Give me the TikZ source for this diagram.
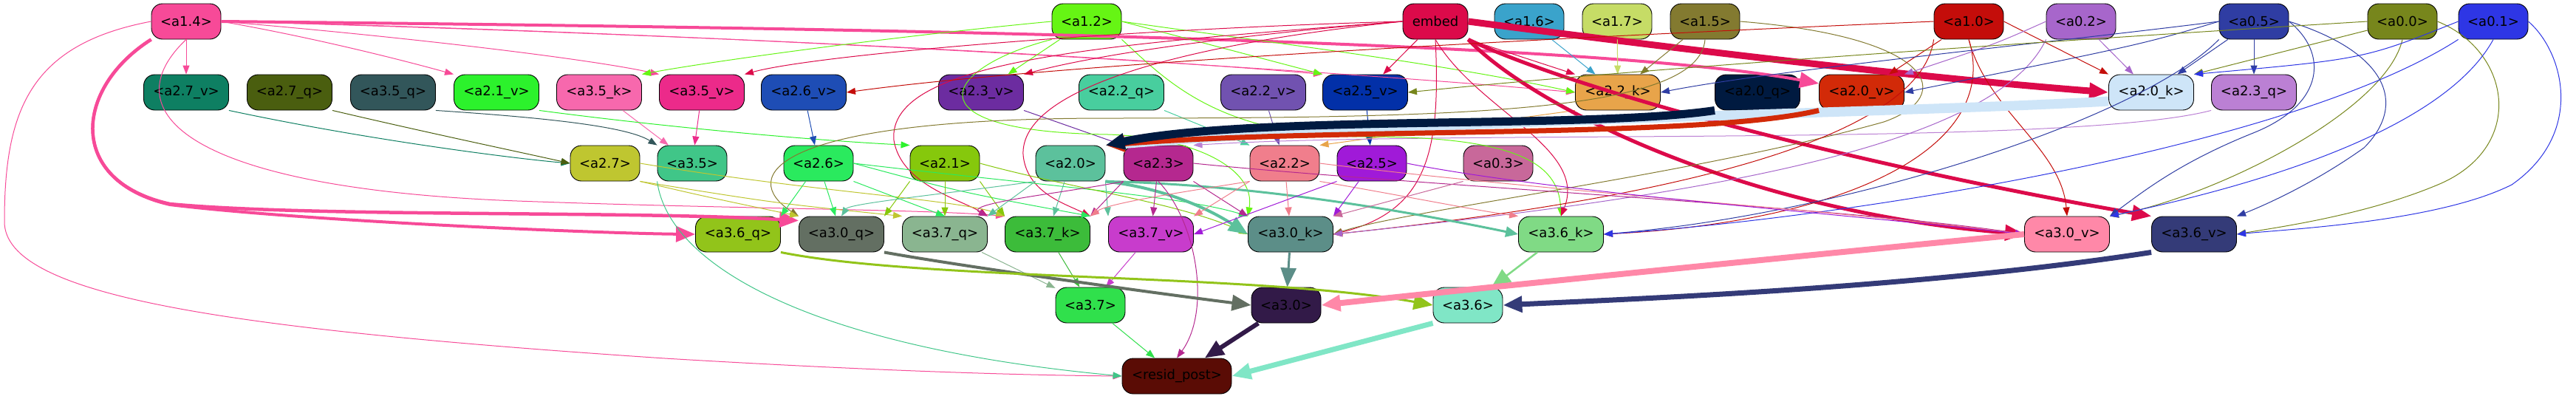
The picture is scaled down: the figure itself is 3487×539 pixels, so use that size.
\documentclass[tikz,border=0pt]{standalone}
\usepackage{fontspec}
\setmainfont{DejaVu Sans}
\usetikzlibrary{arrows.meta}
\definecolor{c14}{HTML}{F74A98}
\definecolor{c12}{HTML}{66F514}
\definecolor{cemb}{HTML}{DC0A4A}
\definecolor{c16}{HTML}{3AA3CB}
\definecolor{c17}{HTML}{C6DC66}
\definecolor{c15}{HTML}{837A30}
\definecolor{c10}{HTML}{C40D0A}
\definecolor{c02}{HTML}{A766CB}
\definecolor{c05}{HTML}{2F3DA3}
\definecolor{c00}{HTML}{77861C}
\definecolor{c01}{HTML}{2E36E5}
\definecolor{c27v}{HTML}{0E7F62}
\definecolor{c27q}{HTML}{4A5E0F}
\definecolor{c35q}{HTML}{32565A}
\definecolor{c21v}{HTML}{2CF22C}
\definecolor{c35k}{HTML}{F768AD}
\definecolor{c35v}{HTML}{EC2A8A}
\definecolor{c26v}{HTML}{1E4DB5}
\definecolor{c23v}{HTML}{6C2CA0}
\definecolor{c22q}{HTML}{48CE9E}
\definecolor{c22v}{HTML}{7152B0}
\definecolor{c25v}{HTML}{0230A8}
\definecolor{c22k}{HTML}{E8A44A}
\definecolor{c20q}{HTML}{001A40}
\definecolor{c20v}{HTML}{D22A08}
\definecolor{c20k}{HTML}{CEE5F8}
\definecolor{c23q}{HTML}{BB80D4}
\definecolor{c27}{HTML}{BFC630}
\definecolor{c35}{HTML}{40C688}
\definecolor{c26}{HTML}{2AEA5E}
\definecolor{c21}{HTML}{86C80C}
\definecolor{c20}{HTML}{5CC19C}
\definecolor{c23}{HTML}{B5288F}
\definecolor{c22}{HTML}{F07E8C}
\definecolor{c25}{HTML}{A01AD8}
\definecolor{c03}{HTML}{C8689A}
\definecolor{c36q}{HTML}{92C41A}
\definecolor{c30q}{HTML}{636F62}
\definecolor{c37q}{HTML}{8AB590}
\definecolor{c37k}{HTML}{3CBC3A}
\definecolor{c37v}{HTML}{C83CCC}
\definecolor{c30k}{HTML}{5C8E88}
\definecolor{c36k}{HTML}{80DA85}
\definecolor{c30v}{HTML}{FF88A8}
\definecolor{c36v}{HTML}{343B78}
\definecolor{c37}{HTML}{30E04C}
\definecolor{c30}{HTML}{321A48}
\definecolor{c36}{HTML}{80E6C6}
\definecolor{cres}{HTML}{5A0C05}
\begin{document}
\begin{tikzpicture}[x=1pt,y=-1pt,
 nd/.style={draw=black,line width=0.9pt,rounded corners=15pt,minimum height=48pt,inner sep=0pt,font=\fontsize{18}{18}\selectfont,text=black},
 ws/.style={minimum width=94pt},
 wl/.style={minimum width=115pt},
 e/.style={draw=#1,line width=1pt,-{Triangle[length=12pt,width=9pt]}},
 em/.style={draw=#1,line width=3pt,-{Triangle[length=17pt,width=14pt]}},
 ek/.style 2 args={draw=#1,line width=#2,-{Triangle[length=26pt,width=21pt]}},
]
\fill[white] (0,0) rectangle (3487,539);
\useasboundingbox (0,0) rectangle (3487,539);
% row 1
\node[nd,ws,fill=c14] (n14) at (252,29) {<a1.4>};
\node[nd,ws,fill=c12] (n12) at (1471,29) {<a1.2>};
\node[nd,minimum width=88pt,fill=cemb] (nemb) at (1943,29) {embed};
\node[nd,ws,fill=c16] (n16) at (2070,29) {<a1.6>};
\node[nd,ws,fill=c17] (n17) at (2189,29) {<a1.7>};
\node[nd,ws,fill=c15] (n15) at (2308,29) {<a1.5>};
\node[nd,ws,fill=c10] (n10) at (2665,29) {<a1.0>};
\node[nd,ws,fill=c02] (n02) at (2817,29) {<a0.2>};
\node[nd,ws,fill=c05] (n05) at (3051,29) {<a0.5>};
\node[nd,ws,fill=c00] (n00) at (3252,29) {<a0.0>};
\node[nd,ws,fill=c01] (n01) at (3375,29) {<a0.1>};
% row 2
\node[nd,wl,fill=c27v] (n27v) at (252,125) {<a2.7\_v>};
\node[nd,wl,fill=c27q] (n27q) at (392,125) {<a2.7\_q>};
\node[nd,wl,fill=c35q] (n35q) at (532,125) {<a3.5\_q>};
\node[nd,wl,fill=c21v] (n21v) at (672,125) {<a2.1\_v>};
\node[nd,wl,fill=c35k] (n35k) at (811,125) {<a3.5\_k>};
\node[nd,wl,fill=c35v] (n35v) at (950,125) {<a3.5\_v>};
\node[nd,wl,fill=c26v] (n26v) at (1088,125) {<a2.6\_v>};
\node[nd,wl,fill=c23v] (n23v) at (1328,125) {<a2.3\_v>};
\node[nd,wl,fill=c22q] (n22q) at (1518,125) {<a2.2\_q>};
\node[nd,wl,fill=c22v] (n22v) at (1710,125) {<a2.2\_v>};
\node[nd,wl,fill=c25v] (n25v) at (1848,125) {<a2.5\_v>};
\node[nd,wl,fill=c22k] (n22k) at (2190,125) {<a2.2\_k>};
\node[nd,wl,fill=c20q] (n20q) at (2379,125) {<a2.0\_q>};
\node[nd,wl,fill=c20v] (n20v) at (2520,125) {<a2.0\_v>};
\node[nd,wl,fill=c20k] (n20k) at (2912,125) {<a2.0\_k>};
\node[nd,wl,fill=c23q] (n23q) at (3051,125) {<a2.3\_q>};
% row 3
\node[nd,ws,fill=c27] (n27) at (819,221) {<a2.7>};
\node[nd,ws,fill=c35] (n35) at (937,221) {<a3.5>};
\node[nd,ws,fill=c26] (n26) at (1108,221) {<a2.6>};
\node[nd,ws,fill=c21] (n21) at (1279,221) {<a2.1>};
\node[nd,ws,fill=c20] (n20) at (1449,221) {<a2.0>};
\node[nd,ws,fill=c23] (n23) at (1568,221) {<a2.3>};
\node[nd,ws,fill=c22] (n22) at (1739,221) {<a2.2>};
\node[nd,ws,fill=c25] (n25) at (1857,221) {<a2.5>};
\node[nd,ws,fill=c03] (n03) at (2028,221) {<a0.3>};
% row 4
\node[nd,wl,fill=c36q] (n36q) at (999,317) {<a3.6\_q>};
\node[nd,wl,fill=c30q] (n30q) at (1139,317) {<a3.0\_q>};
\node[nd,wl,fill=c37q] (n37q) at (1279,317) {<a3.7\_q>};
\node[nd,wl,fill=c37k] (n37k) at (1418,317) {<a3.7\_k>};
\node[nd,wl,fill=c37v] (n37v) at (1558,317) {<a3.7\_v>};
\node[nd,wl,fill=c30k] (n30k) at (1747,317) {<a3.0\_k>};
\node[nd,wl,fill=c36k] (n36k) at (2113,317) {<a3.6\_k>};
\node[nd,wl,fill=c30v] (n30v) at (2798,317) {<a3.0\_v>};
\node[nd,wl,fill=c36v] (n36v) at (2970,317) {<a3.6\_v>};
% row 5
\node[nd,ws,fill=c37] (n37) at (1476,413) {<a3.7>};
\node[nd,ws,fill=c30] (n30) at (1741,413) {<a3.0>};
\node[nd,ws,fill=c36] (n36) at (1987,413) {<a3.6>};
% row 6
\node[nd,minimum width=148pt,fill=cres] (nres) at (1593,509) {<resid\_post>};

% ---- edges from a1.4
\draw[e=c14] (n14) -- (n27v);
\draw[e=c14] (n14.east) .. controls (420,50) and (540,80) .. (n21v.north west);
\draw[e=c14] (n14.east) .. controls (550,50) and (800,80) .. (n35v.north west);
\draw[e=c14] (n14.east) .. controls (900,45) and (1500,75) .. (n25v.north west);
\draw[e=c14] (n14.east) .. controls (1000,45) and (1800,95) .. (n22k.west);
\draw[ek={c14}{4pt}] (n14.east) .. controls (1200,38) and (2150,55) .. ([yshift=12pt]n20v.west);
\draw[ek={c14}{4.5pt}] (n14.south west) .. controls (100,120) and (90,245) .. (230,276) .. controls (420,294) and (850,285) .. ([yshift=-6pt]n30q.north west);
\draw[ek={c14}{4pt}] (n14.south west) .. controls (100,120) and (90,245) .. (230,277) .. controls (420,300) and (820,316) .. (n36q.west);
\draw[e=c14] (n14.west) .. controls (40,60) and (6,150) .. (6,300) .. controls (6,400) and (300,445) .. (900,485) .. controls (1200,503) and (1400,508) .. (nres.west);
\draw[e=c14] (n14.south) .. controls (150,150) and (250,255) .. (700,272) .. controls (1000,283) and (1250,283) .. (n37k.north west);
% ---- row2 -> row3
\draw[e=c27v] (n27v.south east) .. controls (500,190) and (700,215) .. (n27.west);
\draw[e=c27q] (n27q.south east) .. controls (580,180) and (700,205) .. (n27.west);
\draw[e=c35q] (n35q.south east) .. controls (750,160) and (850,172) .. (n35.north west);
\draw[e=c35k] (n35k) -- (n35);
\draw[e=c21v] (n21v.south east) .. controls (900,172) and (1100,190) .. (n21.north west);
\draw[e=c35v] (n35v) -- (n35);
\draw[e=c26v] (n26v) -- (n26);
\draw[e=c23v] (n23v.south east) -- (n23.north west);
\draw[e=c22q] (n22q.south east) -- (n22.north west);
\draw[e=c22v] (n22v) -- (n22);
\draw[e=c25v] (n25v) -- (n25);
\draw[e=c22k] (n22k.south west) -- (n22.north east);
\draw[e=c23q] (n23q.south west) .. controls (2800,200) and (1950,175) .. (n23.north east);
% ---- a1.2
\draw[e=c12] (n12.west) .. controls (1200,50) and (950,85) .. (n35k.north east);
\draw[e=c12] (n12) -- (n23v);
\draw[e=c12] (n12.east) -- (n25v.north west);
\draw[e=c12] (n12.east) .. controls (1700,55) and (1950,85) .. (n22k.west);
\draw[e=c12] (n12.south west) .. controls (1280,90) and (1220,178) .. (1500,182) .. controls (1620,186) and (1700,230) .. (n30k.north west);
\draw[e=c12] (n12.south east) .. controls (1580,110) and (1650,185) .. (1850,185) .. controls (2050,185) and (2110,220) .. (n36k.north);
% ---- embed
\draw[e=cemb] (nemb) -- (n25v);
\draw[e=cemb] (nemb.south east) -- (n22k.north west);
\draw[e=cemb] (nemb.west) .. controls (1700,45) and (1500,70) .. (n23v.north east);
\draw[e=cemb] (nemb.west) .. controls (1500,40) and (1100,75) .. (n35v.north east);
\draw[ek={cemb}{9pt}] (nemb.east) .. controls (2300,70) and (2600,105) .. (n20k.west);
\draw[ek={cemb}{5pt}] (nemb.south east) .. controls (2070,140) and (2350,285) .. (n30v.west);
\draw[ek={cemb}{5pt}] (nemb.south east) .. controls (2150,130) and (2550,230) .. (n36v.north west);
\draw[e=cemb] (nemb.south) .. controls (1950,200) and (1935,285) .. (n30k.east);
\draw[e=cemb] (nemb.south) .. controls (2000,150) and (2150,200) .. (n36k.north);
\draw[e=cemb] (nemb.west) .. controls (1500,60) and (1200,80) .. (1210,190) .. controls (1220,250) and (1300,270) .. (n37q.north east);
\draw[e=cemb] (nemb.west) .. controls (1600,60) and (1380,120) .. (1385,210) .. controls (1390,260) and (1440,275) .. (n37k.north east);
% ---- a1.6 a1.7 a1.5
\draw[e=c16] (n16) -- (n22k);
\draw[e=c17] (n17) -- (n22k);
\draw[e=c15] (n15) -- (n22k);
\draw[e=c15] (n15.south) .. controls (2300,150) and (2000,160) .. (1500,160) .. controls (1040,160) and (1000,240) .. (n30q.north west);
\draw[e=c15] (n15.east) .. controls (2620,50) and (2650,130) .. (2550,165) .. controls (2300,235) and (1900,285) .. (n30k.east);
% ---- a1.0
\draw[e=c10] (n10) -- (n20v);
\draw[e=c10] (n10.east) -- (n20k.north west);
\draw[e=c10] (n10.west) .. controls (2000,55) and (1400,90) .. (n26v.east);
\draw[e=c10] (n10.south) .. controls (2690,150) and (2790,200) .. (n30v.north);
\draw[e=c10] (n10.south) .. controls (2710,200) and (2500,300) .. (n36k.east);
\draw[e=c10] (n10.south west) .. controls (2600,180) and (2300,265) .. (n30k.east);
% ---- a0.2
\draw[e=c02] (n02) -- (n20k);
\draw[e=c02] (n02.west) .. controls (2700,60) .. (n20v.north east);
\draw[e=c02] (n02.south west) .. controls (2700,200) and (2300,265) .. (n30k.east);
% ---- a0.5
\draw[e=c05] (n05) -- (n20k);
\draw[e=c05] (n05) -- (n23q);
\draw[e=c05] (n05.west) .. controls (2800,55) and (2400,95) .. (n22k.east);
\draw[e=c05] (n05.west) .. controls (2900,60) .. (n20v.east);
\draw[e=c05] (n05.east) .. controls (3150,70) and (3150,140) .. (3050,180) .. controls (2950,220) and (2900,260) .. (n30v.north east);
\draw[e=c05] (n05.east) .. controls (3230,70) and (3260,140) .. (3200,200) .. controls (3130,250) and (3060,280) .. (n36v.north east);
\draw[e=c05] (n05.south west) .. controls (2900,160) and (2500,290) .. (n36k.east);
% ---- a0.0
\draw[e=c00] (n00) -- (n20k.north east);
\draw[e=c00] (n00.west) .. controls (2700,60) and (2200,95) .. (n25v.east);
\draw[e=c00] (n00.south) .. controls (3230,150) and (3000,265) .. (n30v.north east);
\draw[e=c00] (n00.east) .. controls (3400,70) and (3420,200) .. (3300,250) .. controls (3200,292) and (3080,308) .. (n36v.east);
% ---- a0.1
\draw[e=c01] (n01.west) .. controls (3200,80) .. (n20k.north east);
\draw[e=c01] (n01.east) .. controls (3470,70) and (3500,180) .. (3400,250) .. controls (3300,300) and (3100,310) .. (n36v.east);
\draw[e=c01] (n01.south west) .. controls (3100,200) and (2500,295) .. (n36k.east);
\draw[e=c01] (n01.south) .. controls (3300,190) and (3000,262) .. (n30v.north east);
% ---- thick into a2.0
\draw[ek={c20k}{13pt}] ([yshift=-12pt]n20k.west) .. controls (2600,152) and (1900,163) .. (n20.north east);
\draw[ek={c20v}{7pt}] (n20v.south west) .. controls (2300,188) and (1800,172) .. (n20.north east);
\draw[ek={c20q}{11pt}] (n20q.south west) .. controls (2150,175) and (1700,155) .. (n20.north east);
% ---- row3 -> row4
\draw[e=c27] (n27.south east) .. controls (950,265) .. (n30q.north west);
\draw[e=c27] (n27.south east) .. controls (1050,275) .. (n37q.north west);
\draw[e=c27] (n27.east) .. controls (1100,260) and (1300,270) .. (n37k.north west);
\draw[e=c35] (n35.south west) .. controls (905,360) and (1100,470) .. (nres.west);
\draw[e=c26] (n26) -- (n36q.north east);
\draw[e=c26] (n26) -- (n30q);
\draw[e=c26] (n26.south east) -- (n37q.north);
\draw[e=c26] (n26.east) .. controls (1300,260) .. (n37k.north east);
\draw[e=c26] (n26.east) .. controls (1400,250) and (1600,265) .. (n30k.north west);
\draw[e=c21] (n21.south west) -- (n30q.north east);
\draw[e=c21] (n21) -- (n37q);
\draw[e=c21] (n21.south east) -- (n37k.north west);
\draw[e=c21] (n21.east) .. controls (1450,255) and (1600,275) .. (n30k.west);
\draw[e=c20] (n20.south west) .. controls (1300,260) and (1150,275) .. (n30q.north);
\draw[e=c20] (n20.south west) -- (n37q.north east);
\draw[e=c20] (n20) -- (n37k);
\draw[e=c20] (n20.south east) -- (n37v.north west);
\draw[ek={c20}{4pt}] (n20.south east) .. controls (1580,255) and (1640,285) .. (n30k.west);
\draw[em=c20] (n20.south east) .. controls (1700,250) and (1900,285) .. (n36k.west);
\draw[e=c23] (n23.south west) -- (n37k.north east);
\draw[e=c23] (n23) -- (n37v);
\draw[e=c23] (n23.south east) -- (n30k.north west);
\draw[e=c23] (n23.east) .. controls (1900,250) and (2500,280) .. (n30v.west);
\draw[e=c23] (n23.south) .. controls (1620,300) and (1640,420) .. (nres.north);
\draw[e=c23] (n23.south west) .. controls (1450,260) and (1300,275) .. (n37q.north east);
\draw[e=c22] (n22.south west) -- (n37v.north east);
\draw[e=c22] (n22.south west) .. controls (1600,260) and (1500,275) .. (n37k.north east);
\draw[e=c22] (n22) -- (n30k);
\draw[e=c22] (n22.south east) .. controls (1900,265) and (2000,285) .. (n36k.north west);
\draw[e=c22] (n22.east) .. controls (2100,260) and (2500,285) .. (n30v.west);
\draw[e=c25] (n25.south west) -- (n37v.east);
\draw[e=c25] (n25) -- (n30k.north east);
\draw[e=c25] (n25.east) .. controls (2100,260) and (2500,290) .. (n30v.west);
\draw[e=c03] (n03.south west) -- (n30k.north east);
% ---- row4 -> row5 -> row6
\draw[e=c37q] (n37q) -- (n37);
\draw[e=c37k] (n37k) -- (n37);
\draw[e=c37v] (n37v) -- (n37);
\draw[ek={c30q}{4pt}] (n30q.south east) .. controls (1300,360) and (1550,395) .. (n30.west);
\draw[ek={c30k}{3pt}] (n30k) -- (n30);
\draw[ek={c36q}{3pt}] (n36q.south east) .. controls (1250,380) and (1700,370) .. (n36.west);
\draw[ek={c36k}{2.5pt}] (n36k) -- (n36);
\draw[ek={c30v}{8pt}] (n30v.west) .. controls (2400,350) and (2000,390) .. (n30.east);
\draw[ek={c36v}{7pt}] (n36v.south west) .. controls (2600,390) and (2200,405) .. (n36.east);
\draw[e=c37] (n37) -- (nres);
\draw[ek={c30}{6pt}] (n30) -- (nres);
\draw[ek={c36}{7pt}] (n36.south west) -- (nres.east);
\end{tikzpicture}
\end{document}
